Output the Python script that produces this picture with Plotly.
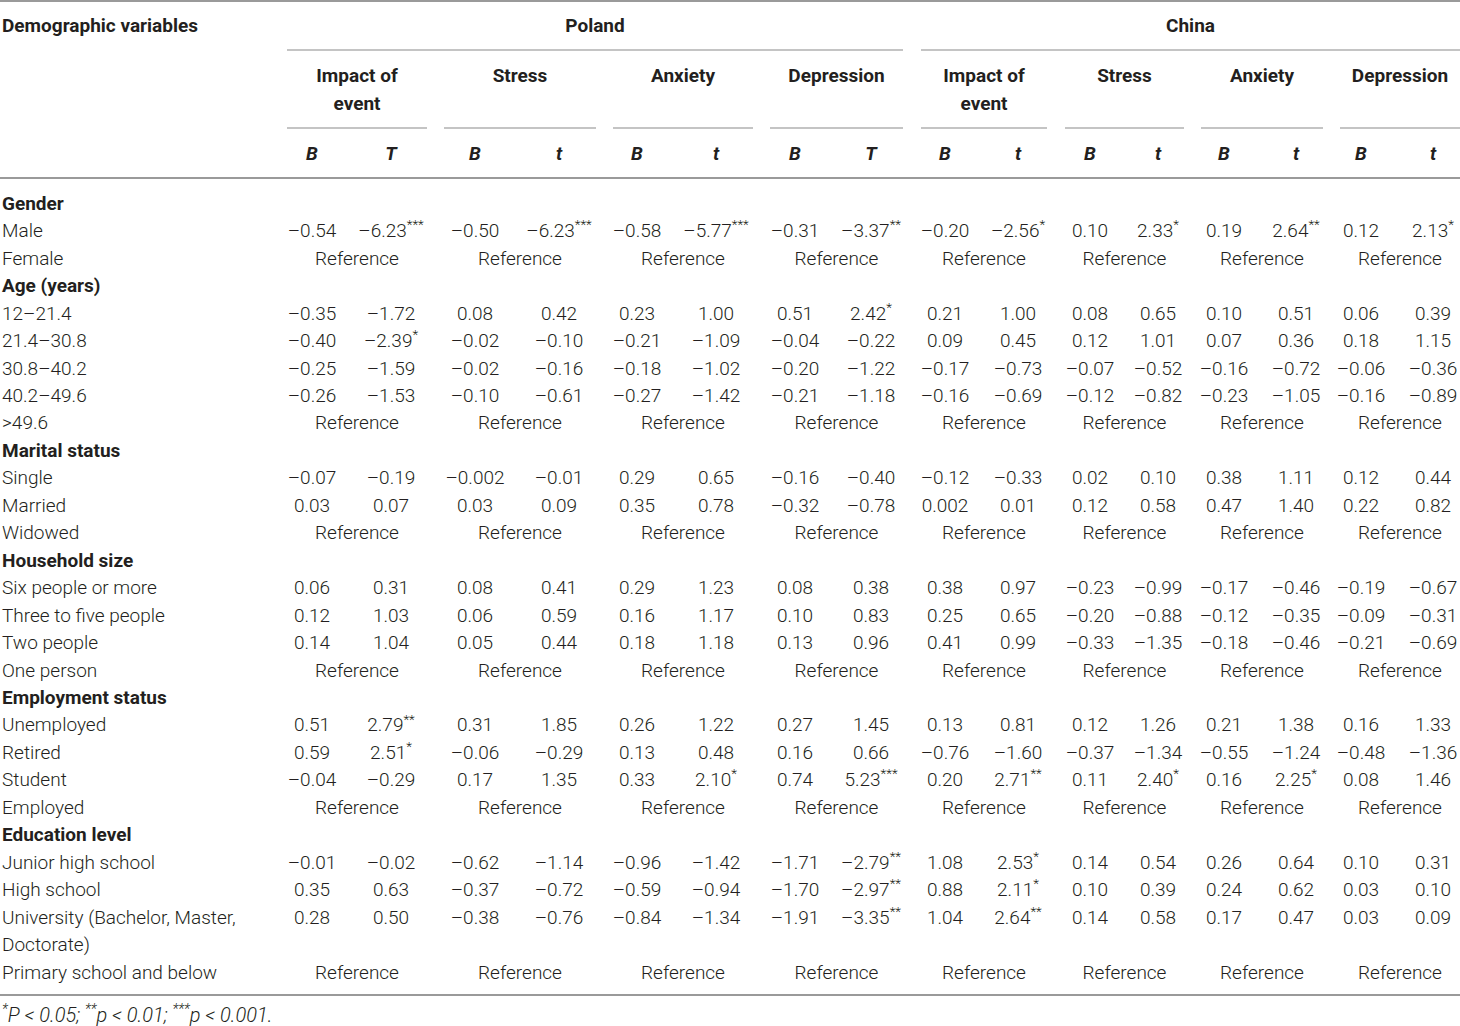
import plotly.graph_objects as go

# Table content
countries = ["Poland", "China"]
outcomes = ["Impact of|event", "Stress", "Anxiety", "Depression",
            "Impact of|event", "Stress", "Anxiety", "Depression"]
stat_labels = ["B", "T", "B", "t", "B", "t", "B", "T",
               "B", "t", "B", "t", "B", "t", "B", "t"]

male = ["-0.54", "-6.23***", "-0.50", "-6.23***", "-0.58", "-5.77***", "-0.31", "-3.37**",
        "-0.20", "-2.56*", "0.10", "2.33*", "0.19", "2.64**", "0.12", "2.13*"]
age_12 = ["-0.35", "-1.72", "0.08", "0.42", "0.23", "1.00", "0.51", "2.42*",
          "0.21", "1.00", "0.08", "0.65", "0.10", "0.51", "0.06", "0.39"]
age_21 = ["-0.40", "-2.39*", "-0.02", "-0.10", "-0.21", "-1.09", "-0.04", "-0.22",
          "0.09", "0.45", "0.12", "1.01", "0.07", "0.36", "0.18", "1.15"]
age_30 = ["-0.25", "-1.59", "-0.02", "-0.16", "-0.18", "-1.02", "-0.20", "-1.22",
          "-0.17", "-0.73", "-0.07", "-0.52", "-0.16", "-0.72", "-0.06", "-0.36"]
age_40 = ["-0.26", "-1.53", "-0.10", "-0.61", "-0.27", "-1.42", "-0.21", "-1.18",
          "-0.16", "-0.69", "-0.12", "-0.82", "-0.23", "-1.05", "-0.16", "-0.89"]
single = ["-0.07", "-0.19", "-0.002", "-0.01", "0.29", "0.65", "-0.16", "-0.40",
          "-0.12", "-0.33", "0.02", "0.10", "0.38", "1.11", "0.12", "0.44"]
married = ["0.03", "0.07", "0.03", "0.09", "0.35", "0.78", "-0.32", "-0.78",
           "0.002", "0.01", "0.12", "0.58", "0.47", "1.40", "0.22", "0.82"]
hh_six = ["0.06", "0.31", "0.08", "0.41", "0.29", "1.23", "0.08", "0.38",
          "0.38", "0.97", "-0.23", "-0.99", "-0.17", "-0.46", "-0.19", "-0.67"]
hh_three = ["0.12", "1.03", "0.06", "0.59", "0.16", "1.17", "0.10", "0.83",
            "0.25", "0.65", "-0.20", "-0.88", "-0.12", "-0.35", "-0.09", "-0.31"]
hh_two = ["0.14", "1.04", "0.05", "0.44", "0.18", "1.18", "0.13", "0.96",
          "0.41", "0.99", "-0.33", "-1.35", "-0.18", "-0.46", "-0.21", "-0.69"]
unemployed = ["0.51", "2.79**", "0.31", "1.85", "0.26", "1.22", "0.27", "1.45",
              "0.13", "0.81", "0.12", "1.26", "0.21", "1.38", "0.16", "1.33"]
retired = ["0.59", "2.51*", "-0.06", "-0.29", "0.13", "0.48", "0.16", "0.66",
           "-0.76", "-1.60", "-0.37", "-1.34", "-0.55", "-1.24", "-0.48", "-1.36"]
student = ["-0.04", "-0.29", "0.17", "1.35", "0.33", "2.10*", "0.74", "5.23***",
           "0.20", "2.71**", "0.11", "2.40*", "0.16", "2.25*", "0.08", "1.46"]
junior = ["-0.01", "-0.02", "-0.62", "-1.14", "-0.96", "-1.42", "-1.71", "-2.79**",
          "1.08", "2.53*", "0.14", "0.54", "0.26", "0.64", "0.10", "0.31"]
high = ["0.35", "0.63", "-0.37", "-0.72", "-0.59", "-0.94", "-1.70", "-2.97**",
        "0.88", "2.11*", "0.10", "0.39", "0.24", "0.62", "0.03", "0.10"]
university = ["0.28", "0.50", "-0.38", "-0.76", "-0.84", "-1.34", "-1.91", "-3.35**",
              "1.04", "2.64**", "0.14", "0.58", "0.17", "0.47", "0.03", "0.09"]

# None = reference category
sections = [
    ("Gender", [("Male", male), ("Female", None)]),
    ("Age (years)", [("12–21.4", age_12), ("21.4–30.8", age_21), ("30.8–40.2", age_30),
                     ("40.2–49.6", age_40), (">49.6", None)]),
    ("Marital status", [("Single", single), ("Married", married), ("Widowed", None)]),
    ("Household size", [("Six people or more", hh_six), ("Three to five people", hh_three),
                        ("Two people", hh_two), ("One person", None)]),
    ("Employment status", [("Unemployed", unemployed), ("Retired", retired),
                           ("Student", student), ("Employed", None)]),
    ("Education level", [("Junior high school", junior), ("High school", high),
                         ("University (Bachelor, Master,|Doctorate)", university),
                         ("Primary school and below", None)]),
]
footnote = "<sup>*</sup>P < 0.05; <sup>**</sup>p < 0.01; <sup>***</sup>p < 0.001."

# Layout geometry
W, H = 1460, 1026
col_x = [312, 391, 475, 559, 637, 716, 795, 871, 945, 1018, 1090, 1158, 1224, 1296, 1361, 1433]
grp_span = [(287, 427), (444, 596), (613, 753), (770, 903),
            (921, 1047), (1065, 1184), (1201, 1323), (1340, 1460)]
cty_span = [(287, 903), (921, 1460)]
row0, row_h = 205, 27.46
FONT = "Roboto"
INK = "#231f20"
FS = 19


def fmt(v):
    v = v.replace("-", "–")
    n = len(v) - len(v.rstrip("*"))
    return v.rstrip("*") + ("<sup>" + "*" * n + "</sup>" if n else "")


left_x, left_y, left_t = [], [], []
head_x, head_y, head_t = [], [], []
cell_x, cell_y, cell_t = [], [], []

slot = 0
for title, rows in sections:
    head_x.append(2); head_y.append(row0 + slot * row_h); head_t.append(title)
    slot += 1
    for label, vals in rows:
        y = row0 + slot * row_h
        parts = label.split("|")
        for k, p in enumerate(parts):
            left_x.append(2); left_y.append(y + k * row_h); left_t.append(p)
        if vals is None:
            for a, b in grp_span:
                cell_x.append((a + b) / 2); cell_y.append(y); cell_t.append("Reference")
        else:
            for cx, v in zip(col_x, vals):
                cell_x.append(cx); cell_y.append(y); cell_t.append(fmt(v))
        slot += len(parts)

# outcome headings, split over two lines where needed
out_x, out_y, out_t = [], [], []
for (a, b), name in zip(grp_span, outcomes):
    for k, p in enumerate(name.split("|")):
        out_x.append((a + b) / 2); out_y.append(77 + k * 28); out_t.append(p)

bold = dict(family=FONT, size=FS, color=INK, weight=700)
light = dict(family=FONT, size=FS, color=INK, weight=300)

fig = go.Figure()

# header texts
fig.add_trace(go.Scatter(x=[2], y=[27], text=["Demographic variables"], mode="text",
                         textposition="middle right", textfont=bold))
fig.add_trace(go.Scatter(x=[(a + b) / 2 for a, b in cty_span], y=[27, 27], text=countries,
                         mode="text", textposition="middle center", textfont=bold))
fig.add_trace(go.Scatter(x=out_x, y=out_y, text=out_t, mode="text",
                         textposition="middle center", textfont=bold))
fig.add_trace(go.Scatter(x=col_x, y=[155] * len(stat_labels),
                         text=["<i>" + s + "</i>" for s in stat_labels], mode="text",
                         textposition="middle center", textfont=bold))

# body
fig.add_trace(go.Scatter(x=head_x, y=head_y, text=head_t, mode="text",
                         textposition="middle right", textfont=bold))
fig.add_trace(go.Scatter(x=left_x, y=left_y, text=left_t, mode="text",
                         textposition="middle right", textfont=light))
fig.add_trace(go.Scatter(x=cell_x, y=cell_y, text=cell_t, mode="text",
                         textposition="middle center", textfont=light))
fig.add_trace(go.Scatter(x=[2], y=[1017], text=["<i>" + footnote + "</i>"], mode="text",
                         textposition="middle right",
                         textfont=dict(family=FONT, size=20, color=INK, weight=300)))

# rules
line_main = dict(color="#9a9a9a", width=2)
line_sub = dict(color="#b0b0b0", width=1.5)
for y in (1, 178, 995):
    fig.add_shape(type="line", x0=0, x1=W, y0=y, y1=y, line=line_main, layer="below")
for a, b in cty_span:
    fig.add_shape(type="line", x0=a, x1=b, y0=50, y1=50, line=line_sub, layer="below")
for a, b in grp_span:
    fig.add_shape(type="line", x0=a, x1=b, y0=128, y1=128, line=line_sub, layer="below")

fig.update_layout(
    width=W, height=H,
    margin=dict(l=0, r=0, t=0, b=0),
    paper_bgcolor="white", plot_bgcolor="white",
    showlegend=False,
    xaxis=dict(range=[0, W], visible=False, fixedrange=True),
    yaxis=dict(range=[H, 0], visible=False, fixedrange=True),
)

fig.write_html("out.html", config={"displayModeBar": False},
               post_script="document.body.style.margin='0';")
